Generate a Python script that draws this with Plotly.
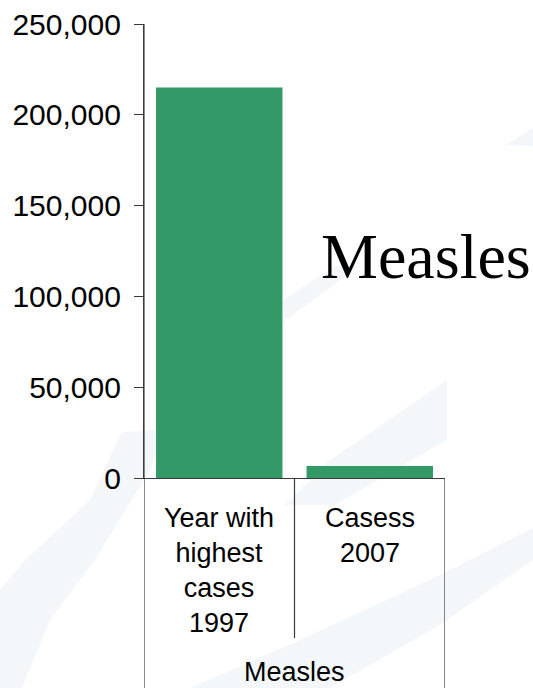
import plotly.graph_objects as go

categories = ["Year with highest cases 1997", "Casess 2007"]
category_labels = ["Year with<br>highest<br>cases<br>1997", "Casess<br>2007"]
group_label = "Measles"
cases = [215000, 6600]
tick_values = [0, 50000, 100000, 150000, 200000, 250000]
tick_labels = ["0", "50,000", "100,000", "150,000", "200,000", "250,000"]
title_text = "Measles"

W, H = 533, 688
L, R, T, B = 144, 88, 24, 210
PH = H - T - B
PW = W - L - R


def px(xp):
    return (xp - L) / PW


def py(yp):
    return (H - B - yp) / PH


fig = go.Figure()
fig.add_trace(go.Bar(
    x=list(range(len(categories))), y=cases,
    marker=dict(color="#339966", line=dict(width=0)),
    width=0.84, hoverinfo="skip", showlegend=False,
))

shapes = []
# faint background watermark bands
band_color = "#f4f7fa"
bands = [
    [(122, 432), (165, 430), (150, 470), (95, 560), (50, 620), (22, 688), (0, 688), (0, 590), (25, 560), (90, 500)],
    [(190, 688), (300, 640), (440, 575), (533, 528), (533, 560), (440, 625), (330, 688)],
    [(447, 380), (447, 440), (335, 505), (285, 505), (330, 460)],
    [(283, 300), (335, 266), (360, 266), (283, 322)],
    [(505, 145), (533, 128), (533, 146)],
]
for pts in bands:
    d = "M " + " L ".join(f"{px(a):.4f},{py(b):.4f}" for a, b in pts) + " Z"
    shapes.append(dict(type="path", path=d, xref="paper", yref="paper",
                       fillcolor=band_color, line=dict(width=0), layer="below"))

line_col = "#3a3a3a"
n = len(categories)
# outer vertical boundaries (full depth) and inner divider
shapes.append(dict(type="line", xref="x", yref="paper", x0=-0.5, x1=-0.5,
                   y0=1, y1=py(H + 2), line=dict(color=line_col, width=1.2)))
shapes.append(dict(type="line", xref="x", yref="paper", x0=n - 0.5, x1=n - 0.5,
                   y0=0, y1=py(H + 2), line=dict(color=line_col, width=1.2)))
for i in range(n - 1):
    shapes.append(dict(type="line", xref="x", yref="paper", x0=i + 0.5, x1=i + 0.5,
                       y0=0, y1=py(638), line=dict(color=line_col, width=1.2)))

annotations = []
for i, lab in enumerate(category_labels):
    annotations.append(dict(x=i, y=py(501), xref="x", yref="paper", text=lab,
                            showarrow=False, xanchor="center", yanchor="top",
                            font=dict(family="Liberation Sans, Arial", size=27, color="#000")))
annotations.append(dict(x=(n - 1) / 2, y=py(655), xref="x", yref="paper", text=group_label,
                        showarrow=False, xanchor="center", yanchor="top",
                        font=dict(family="Liberation Sans, Arial", size=27, color="#000")))
annotations.append(dict(x=px(319), y=py(256), xref="paper", yref="paper", text=title_text,
                        showarrow=False, xanchor="left", yanchor="middle",
                        font=dict(family="Liberation Serif, Times New Roman, serif", size=64, color="#000")))

fig.update_layout(
    width=W, height=H,
    margin=dict(l=L, r=R, t=T, b=B, pad=0, autoexpand=False),
    paper_bgcolor="white", plot_bgcolor="rgba(0,0,0,0)",
    bargap=0.16,
    shapes=shapes, annotations=annotations,
    xaxis=dict(range=[-0.5, n - 0.5], showticklabels=False, ticks="",
               showgrid=False, zeroline=False, showline=True, automargin=False,
               linecolor=line_col, linewidth=1.2, fixedrange=True),
    yaxis=dict(range=[0, 250000], tickvals=tick_values, ticktext=tick_labels,
               ticks="outside", ticklen=9, tickcolor=line_col, tickwidth=1.2,
               showgrid=False, zeroline=False, showline=True, automargin=False,
               linecolor=line_col, linewidth=1.2, ticklabelstandoff=7,
               tickfont=dict(family="Liberation Sans, Arial", size=30, color="#000"),
               fixedrange=True),
)

fig.write_html("out.html", config={"displayModeBar": False},
               post_script="document.body.style.margin='0';document.body.style.overflow='hidden';")
